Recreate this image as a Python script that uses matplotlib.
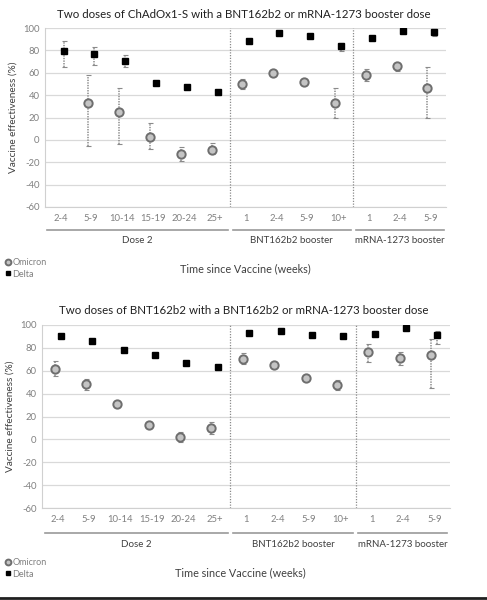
import numpy as np
import matplotlib
matplotlib.use("Agg")
import matplotlib.pyplot as plt
from matplotlib.transforms import blended_transform_factory
from matplotlib.lines import Line2D

plt.rcParams['font.family'] = ['Lato', 'DejaVu Sans']

categories = ["2-4", "5-9", "10-14", "15-19", "20-24", "25+",
              "1", "2-4", "5-9", "10+",
              "1", "2-4", "5-9"]
groups = ["Dose 2", "BNT162b2 booster", "mRNA-1273 booster"]
group_spans = [(0, 5), (6, 9), (10, 12)]

titles = ["Two doses of ChAdOx1-S with a BNT162b2 or mRNA-1273 booster dose",
          "Two doses of BNT162b2 with a BNT162b2 or mRNA-1273 booster dose"]

# Top panel (ChAdOx1-S primary)
top_omicron = [np.nan, 32.7, 24.6, 2.8, -13.0, -8.9, 49.8, 59.6, 51.6, 33.3, 57.8, 65.6, 46.5]
top_omicron_lo = [np.nan, -5.3, -3.8, -8.3, -19.0, -12.7, 45.6, 57.0, 49.0, 19.3, 53.0, 62.0, 19.9]
top_omicron_hi = [np.nan, 58.0, 46.0, 14.8, -6.2, -3.2, 54.5, 62.0, 54.5, 46.0, 63.5, 69.0, 64.7]
top_delta = [79.7, 76.4, 70.7, 50.7, 47.0, 42.6, 88.6, 95.5, 92.5, 83.5, 91.3, 97.3, 96.4]
top_delta_lo = [64.7, 67.0, 64.7, 49.5, 46.0, 41.8, 87.8, 94.8, 91.8, 79.0, 90.5, 96.6, 93.0]
top_delta_hi = [88.0, 83.0, 76.0, 52.0, 48.0, 43.4, 89.4, 96.2, 93.2, 86.5, 92.1, 98.0, 97.5]

# Bottom panel (BNT162b2 primary)
bot_omicron = [61.8, 48.4, 31.0, 12.6, 2.2, 9.8, 70.6, 65.4, 53.5, 47.3, 76.1, 71.2, 73.8]
bot_omicron_lo = [55.6, 43.4, 28.0, 9.8, -1.9, 4.4, 66.0, 63.6, 52.0, 43.3, 68.0, 65.0, 44.7]
bot_omicron_hi = [68.2, 52.7, 33.8, 15.6, 6.2, 15.0, 75.9, 68.0, 55.0, 52.0, 83.0, 76.7, 87.5]
bot_delta = [90.7, 85.7, 78.2, 74.2, 67.2, 63.1, 92.7, 94.8, 91.6, 90.7, 92.1, 97.1, 91.3]
bot_delta_lo = [90.0, 85.0, 77.5, 73.5, 66.5, 62.4, 92.0, 94.1, 90.9, 90.0, 91.4, 96.4, 83.0]
bot_delta_hi = [91.4, 86.4, 78.9, 74.9, 67.9, 63.8, 93.4, 95.5, 92.3, 91.4, 92.8, 97.8, 95.0]

yticks = [-60, -40, -20, 0, 20, 40, 60, 80, 100]

panels = [
    dict(rect=[45/487, 1-207/600, 401/487, 179/600], title=titles[0], title_y=1-14/600,
         om=top_omicron, om_lo=top_omicron_lo, om_hi=top_omicron_hi,
         de=top_delta, de_lo=top_delta_lo, de_hi=top_delta_hi,
         line_y=-0.128, lab_y=-0.185, leg_y=1-256/600, xlab=(245/487, 1-269/600)),
    dict(rect=[42/487, 1-508/600, 408/487, 183/600], title=titles[1], title_y=1-311/600,
         om=bot_omicron, om_lo=bot_omicron_lo, om_hi=bot_omicron_hi,
         de=bot_delta, de_lo=bot_delta_lo, de_hi=bot_delta_hi,
         line_y=-0.137, lab_y=-0.197, leg_y=1-556/600, xlab=(240/487, 1-573/600)),
]

fig = plt.figure(figsize=(4.87, 6.0), dpi=100)

grey_txt = '#808080'
dark_txt = '#404040'
err_col = '#8a8a8a'

for p in panels:
    ax = fig.add_axes(p['rect'])
    x = np.arange(len(categories))
    om = np.array(p['om'], dtype=float)
    de = np.array(p['de'], dtype=float)
    om_err = np.array([om - np.array(p['om_lo']), np.array(p['om_hi']) - om])
    de_err = np.array([de - np.array(p['de_lo']), np.array(p['de_hi']) - de])

    eb1 = ax.errorbar(x - 0.1, om, yerr=om_err, fmt='none', ecolor=err_col,
                      elinewidth=1.1, capsize=1.8, capthick=0.8, zorder=3)
    eb1[2][0].set_linestyle((0, (0.9, 0.8)))
    eb2 = ax.errorbar(x + 0.1, de, yerr=de_err, fmt='none', ecolor=err_col,
                      elinewidth=1.1, capsize=1.8, capthick=0.8, zorder=3)
    eb2[2][0].set_linestyle((0, (0.9, 0.8)))

    h_om, = ax.plot(x - 0.1, om, linestyle='none', marker='o', markersize=6.0,
                    markerfacecolor='#c4c4c4', markeredgecolor='#6e6e6e',
                    markeredgewidth=1.4, zorder=4, label='Omicron')
    h_de, = ax.plot(x + 0.1, de, linestyle='none', marker='s', markersize=4.6,
                    color='black', zorder=4, label='Delta')

    ax.set_xlim(-0.5, len(categories) - 0.5)
    ax.set_ylim(-60, 100)
    ax.set_yticks(yticks)
    ax.set_yticklabels([str(v) for v in yticks])
    ax.set_xticks(x)
    ax.set_xticklabels(categories)
    ax.tick_params(axis='both', length=0, labelsize=6.8, colors=grey_txt)
    ax.tick_params(axis='x', pad=5)
    ax.tick_params(axis='y', pad=4)
    ax.grid(axis='y', color='#d9d9d9', linewidth=0.9)
    ax.set_axisbelow(True)
    for s in ['top', 'right']:
        ax.spines[s].set_visible(False)
    ax.spines['left'].set_color('#d0d0d0')
    ax.spines['bottom'].set_color('#d0d0d0')

    for xd in [5.5, 9.5]:
        ax.axvline(xd, color='#8a8a8a', linestyle=(0, (1, 1.2)), linewidth=0.9, zorder=2)

    ax.set_ylabel('Vaccine effectiveness (%)', fontsize=7.2, color=dark_txt, labelpad=4)

    trans = blended_transform_factory(ax.transData, ax.transAxes)
    for (a, b), g in zip(group_spans, groups):
        ax.add_line(Line2D([a - 0.42, b + 0.42], [p['line_y'], p['line_y']],
                           transform=trans, color='#9a9a9a', linewidth=1.2, clip_on=False))
        ax.text((a + b) / 2, p['lab_y'], g, transform=trans, ha='center', va='center',
                fontsize=7.0, color=dark_txt)

    fig.text(0.5, p['title_y'], p['title'], ha='center', va='center',
             fontsize=8.3, color='#202020')
    fig.text(p['xlab'][0], p['xlab'][1], 'Time since Vaccine (weeks)', ha='center',
             va='center', fontsize=7.8, color=dark_txt)

    fig.legend(handles=[h_om, h_de], loc='upper left',
               bbox_to_anchor=(0.008, p['leg_y']), bbox_transform=fig.transFigure,
               frameon=False, fontsize=6.5, labelcolor=grey_txt, markerscale=0.7,
               handlelength=0.5, handletextpad=0.25, labelspacing=0.3,
               borderpad=0.2, borderaxespad=0.0)

fig.add_artist(Line2D([0, 1], [1 - 598/600, 1 - 598/600], transform=fig.transFigure,
                      color='#202020', linewidth=2.0))

fig.savefig('out.png', dpi=100)
